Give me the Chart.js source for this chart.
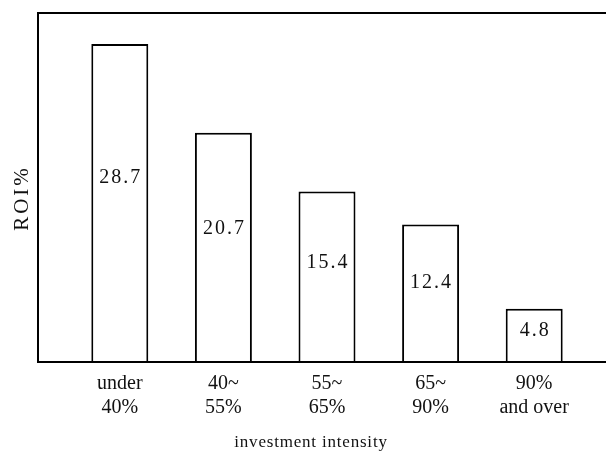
<!DOCTYPE html>
<html>
<head>
<meta charset="utf-8">
<script src="https://cdn.jsdelivr.net/npm/chart.js@4.4.0/dist/chart.umd.min.js"></script>
<style>
  html, body { margin: 0; padding: 0; background: #fff; }
  #wrap { width: 606px; height: 459px; }
</style>
</head>
<body>
<div id="wrap"><canvas id="c" width="606" height="459"></canvas></div>
<script>
const categories = [["under", "40%"], ["40~", "55%"], ["55~", "65%"], ["65~", "90%"], ["90%", "and over"]];
const roiValues = [28.7, 20.7, 15.4, 12.4, 4.8];
const valueLabels = ["28.7", "20.7", "15.4", "12.4", "4.8"];
const yAxisTitle = "ROI%";
const xAxisTitle = "investment intensity";

const FONT = "'Liberation Serif', 'DejaVu Serif', serif";

const framePlugin = {
  id: 'frame',
  afterDraw(chart) {
    const ctx = chart.ctx;
    const a = chart.chartArea;
    const left = a.left - 30;
    ctx.save();
    ctx.strokeStyle = '#000';
    ctx.lineWidth = 2;
    ctx.beginPath();
    ctx.moveTo(chart.width, a.top);
    ctx.lineTo(left, a.top);
    ctx.lineTo(left, a.bottom);
    ctx.lineTo(chart.width, a.bottom);
    ctx.stroke();
    ctx.restore();

    // y axis title
    ctx.save();
    ctx.fillStyle = '#111';
    ctx.font = "21px " + FONT;
    try { ctx.letterSpacing = '3px'; } catch (e) {}
    ctx.textAlign = 'center';
    ctx.textBaseline = 'middle';
    ctx.translate(22, 198);
    ctx.rotate(-Math.PI / 2);
    ctx.fillText(yAxisTitle, 0, 0);
    ctx.restore();

    // x axis title
    ctx.save();
    ctx.fillStyle = '#111';
    ctx.font = "17px " + FONT;
    try { ctx.letterSpacing = '0.8px'; } catch (e) {}
    ctx.textAlign = 'center';
    ctx.textBaseline = 'middle';
    ctx.fillText(xAxisTitle, 311, 443);
    ctx.restore();

    // value labels
    const meta = chart.getDatasetMeta(0);
    const ys = chart.scales.y;
    ctx.save();
    ctx.fillStyle = '#111';
    ctx.font = "20px " + FONT;
    ctx.textAlign = 'center';
    ctx.textBaseline = 'middle';
    try { ctx.letterSpacing = '2px'; } catch (e) {}
    meta.data.forEach((bar, i) => {
      const y = ys.getPixelForValue(roiValues[i] * 0.58);
      ctx.fillText(valueLabels[i], bar.x + 1, y);
    });
    ctx.restore();
  }
};

new Chart(document.getElementById('c'), {
  type: 'bar',
  data: {
    labels: categories,
    datasets: [{
      data: roiValues,
      backgroundColor: '#fff',
      borderColor: '#000',
      borderWidth: 2,
      borderSkipped: 'bottom',
      categoryPercentage: 1,
      barPercentage: 0.55
    }]
  },
  options: {
    responsive: false,
    animation: false,
    devicePixelRatio: 1,
    layout: { padding: { left: 68, right: 20, top: 13, bottom: 37 } },
    plugins: {
      legend: { display: false },
      tooltip: { enabled: false },
      title: { display: false }
    },
    scales: {
      x: {
        grid: { display: false },
        border: { display: false },
        ticks: {
          color: '#111',
          font: { family: FONT, size: 20 },
          padding: 2,
          maxRotation: 0
        }
      },
      y: {
        display: false,
        min: 0,
        max: 31.5
      }
    }
  },
  plugins: [framePlugin]
});
</script>
</body>
</html>
